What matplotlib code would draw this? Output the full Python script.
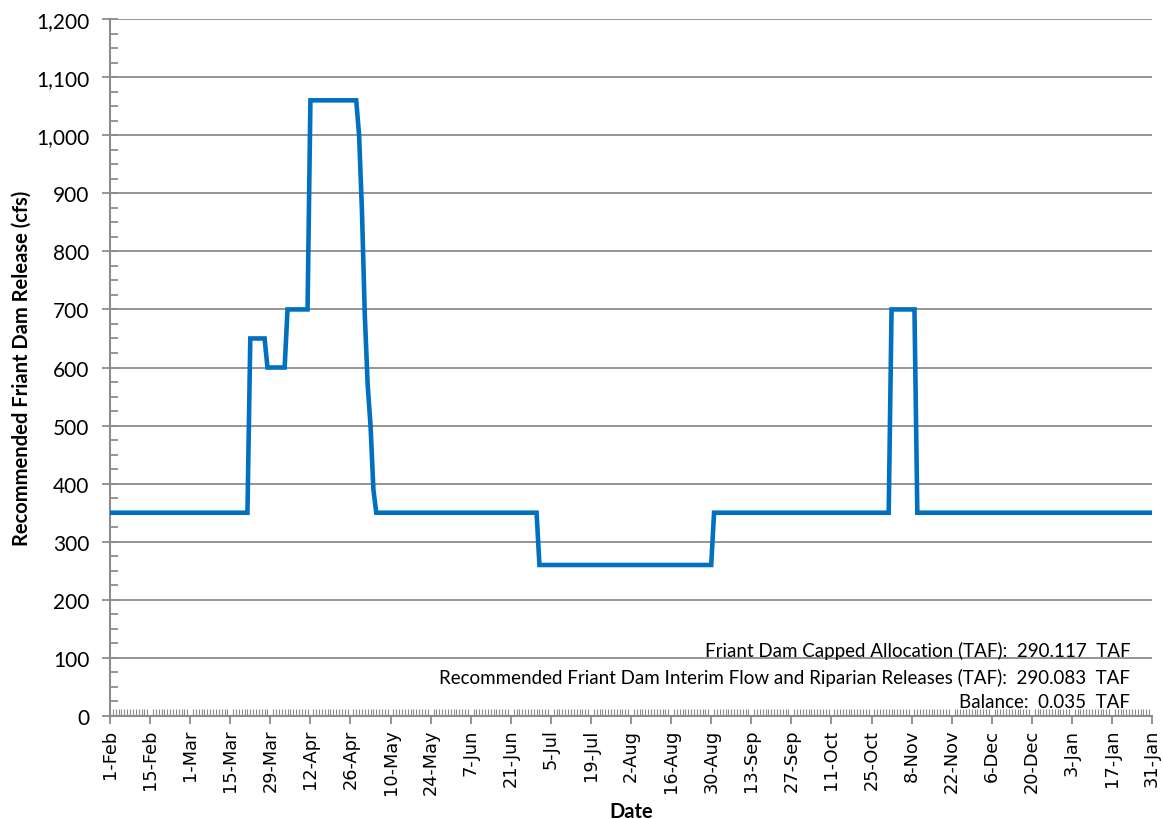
import numpy as np
import pandas as pd
import matplotlib
matplotlib.use("Agg")
import matplotlib.pyplot as plot
import matplotlib.dates as mdates
from matplotlib.ticker import FuncFormatter, MultipleLocator

# release schedule (cfs), points where the flow changes
release_dates = ["2010-02-01", "2010-03-21", "2010-03-22", "2010-03-27", "2010-03-28",
                 "2010-04-03", "2010-04-04", "2010-04-11", "2010-04-12", "2010-04-28",
                 "2010-04-29", "2010-04-30", "2010-05-01", "2010-05-02", "2010-05-03",
                 "2010-05-04", "2010-05-05", "2010-06-30", "2010-07-01", "2010-08-30",
                 "2010-08-31", "2010-10-31", "2010-11-01", "2010-11-09", "2010-11-10",
                 "2011-01-31"]
release_cfs = [350, 350, 650, 650, 600,
               600, 700, 700, 1060, 1060,
               1000, 870, 690, 570, 500,
               390, 350, 350, 260, 260,
               350, 350, 700, 700, 350,
               350]

summary_lines = [
    "Friant Dam Capped Allocation (TAF):  290.117  TAF",
    "Recommended Friant Dam Interim Flow and Riparian Releases (TAF):  290.083  TAF",
    "Balance:  0.035  TAF",
]

start = pd.Timestamp("2010-02-01")
end = pd.Timestamp("2011-01-31")
grey = "#8c8c8c"

fig = plot.figure(figsize=(11.63, 8.2), dpi=100)
ax = fig.add_axes([0.0946, 0.1256, 0.896, 0.85])

ax.plot(pd.to_datetime(release_dates), release_cfs, color="#0070C0", linewidth=3.3,
        solid_joinstyle="miter", zorder=3)

ax.set_xlim(start, end)
ax.set_ylim(0, 1200)

# y axis
ax.yaxis.set_major_locator(MultipleLocator(100))
ax.yaxis.set_minor_locator(MultipleLocator(25))
ax.yaxis.set_major_formatter(FuncFormatter(lambda v, p: f"{int(v):,}"))
ax.tick_params(axis="y", which="major", direction="inout", length=12, width=1.3,
               color=grey, labelsize=15, pad=9)
ax.tick_params(axis="y", which="minor", direction="in", length=6, width=1.3, color=grey)
for lab in ax.get_yticklabels():
    lab.set_family("Lato")

# x axis
major_days = pd.date_range(start, end, freq="14D")
ax.set_xticks(major_days)
ax.set_xticks(pd.date_range(start, end, freq="D"), minor=True)
ax.xaxis.set_major_formatter(FuncFormatter(
    lambda v, p: f"{mdates.num2date(v).day}-{mdates.num2date(v):%b}"))
ax.tick_params(axis="x", which="major", direction="out", length=6, width=1.3,
               color=grey, labelsize=12.8, labelrotation=90, pad=3)
ax.tick_params(axis="x", which="minor", direction="in", length=5, width=0.8, color=grey)

ax.grid(axis="y", which="major", color=grey, linewidth=1.3)
ax.set_axisbelow(True)
for side in ["top", "right"]:
    ax.spines[side].set_visible(False)
for side in ["left", "bottom"]:
    ax.spines[side].set_color(grey)
    ax.spines[side].set_linewidth(1.5)

ax.set_ylabel("Recommended Friant Dam Release (cfs)", fontsize=14.5, fontweight="bold",
              family="Lato", labelpad=3)
ax.set_xlabel("Date", fontsize=14.5, fontweight="bold", family="Lato", labelpad=5)

y_pos = [0.0947, 0.056, 0.0215]
for txt, yy in zip(summary_lines, y_pos):
    ax.text(0.979, yy, txt, transform=ax.transAxes, ha="right", va="center",
            fontsize=13.5, family="Lato", zorder=4)

fig.savefig("out.png", dpi=100)
